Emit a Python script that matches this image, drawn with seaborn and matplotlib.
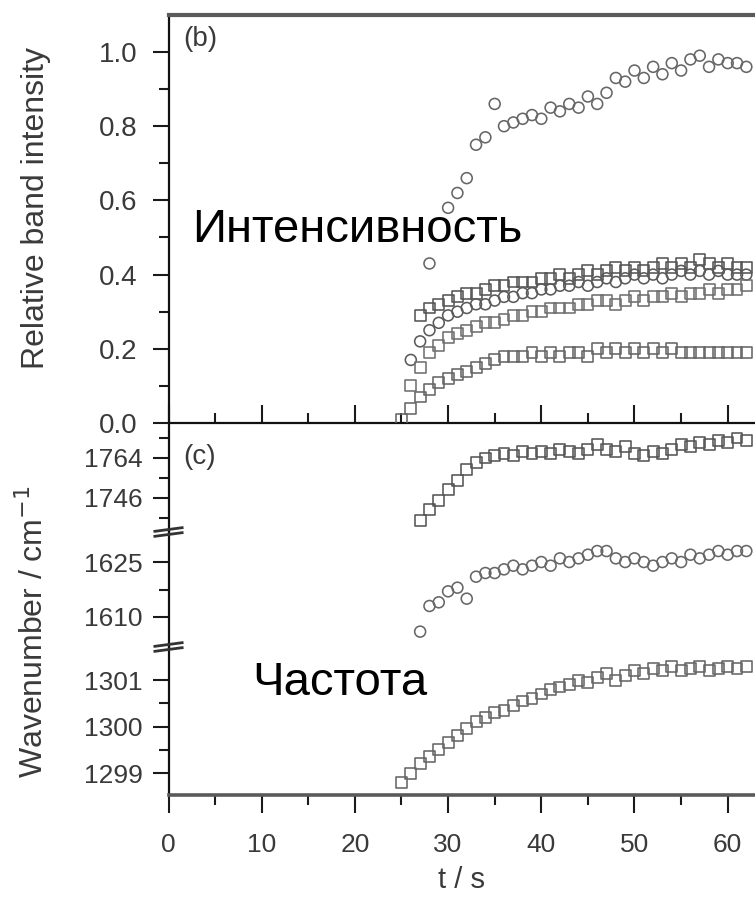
import matplotlib
matplotlib.use("Agg")
import matplotlib.pyplot as plt
from matplotlib.ticker import MultipleLocator, FixedLocator
import seaborn as sns

sns.set_style("ticks")
plt.rcParams["font.family"] = ["Liberation Sans", "DejaVu Sans"]

# ---- panel (b): relative band intensities vs time -------------------------
t_a = [28] + list(range(30, 63))
int_a = [0.43, 0.58, 0.62, 0.66, 0.75, 0.77, 0.86, 0.80, 0.81, 0.82, 0.83, 0.82,
         0.85, 0.84, 0.86, 0.85, 0.88, 0.86, 0.89, 0.93, 0.92, 0.95, 0.93, 0.96,
         0.94, 0.97, 0.95, 0.98, 0.99, 0.96, 0.98, 0.97, 0.97, 0.96]

t_b = list(range(27, 63))
int_b = [0.29, 0.31, 0.32, 0.33, 0.34, 0.35, 0.35, 0.36, 0.37, 0.37, 0.38, 0.38,
         0.38, 0.39, 0.39, 0.40, 0.39, 0.40, 0.41, 0.40, 0.41, 0.42, 0.41, 0.42,
         0.41, 0.42, 0.43, 0.42, 0.43, 0.42, 0.44, 0.43, 0.42, 0.43, 0.42, 0.42]

t_c = list(range(26, 63))
int_c = [0.17, 0.22, 0.25, 0.27, 0.29, 0.30, 0.31, 0.32, 0.32, 0.33, 0.34, 0.34,
         0.35, 0.35, 0.36, 0.36, 0.37, 0.37, 0.38, 0.37, 0.38, 0.39, 0.38, 0.39,
         0.40, 0.39, 0.40, 0.39, 0.40, 0.41, 0.40, 0.41, 0.40, 0.41, 0.40, 0.40, 0.40]

t_e = list(range(26, 63))
int_e = [0.10, 0.15, 0.19, 0.21, 0.23, 0.24, 0.25, 0.26, 0.27, 0.27, 0.28, 0.29,
         0.29, 0.30, 0.30, 0.31, 0.31, 0.31, 0.32, 0.32, 0.33, 0.33, 0.32, 0.33,
         0.34, 0.33, 0.34, 0.34, 0.35, 0.34, 0.35, 0.35, 0.36, 0.35, 0.36, 0.36, 0.37]

t_d = list(range(25, 63))
int_d = [0.01, 0.04, 0.07, 0.09, 0.11, 0.12, 0.13, 0.14, 0.15, 0.16, 0.17, 0.18,
         0.18, 0.18, 0.19, 0.18, 0.19, 0.18, 0.19, 0.19, 0.18, 0.20, 0.19, 0.20,
         0.19, 0.20, 0.19, 0.20, 0.19, 0.20, 0.19, 0.19, 0.19, 0.19, 0.19, 0.19,
         0.19, 0.19]

# ---- panel (c): band positions vs time ------------------------------------
t_f = list(range(27, 63))
wn_f = [1736, 1741, 1745, 1750, 1754, 1759, 1762, 1764, 1765, 1766, 1765, 1767,
        1766, 1767, 1766, 1768, 1767, 1766, 1768, 1770, 1768, 1767, 1769, 1766,
        1765, 1767, 1766, 1768, 1770, 1769, 1771, 1770, 1772, 1771, 1773, 1772]

t_g = list(range(27, 63))
wn_g = [1606, 1613, 1614, 1617, 1618, 1615, 1621, 1622, 1622, 1623, 1624, 1623,
        1624, 1625, 1624, 1626, 1625, 1626, 1627, 1628, 1628, 1626, 1625, 1626,
        1625, 1624, 1625, 1626, 1625, 1627, 1626, 1627, 1628, 1627, 1628, 1628]

t_h = list(range(25, 63))
wn_h = [1298.8, 1299.0, 1299.2, 1299.35, 1299.5, 1299.65, 1299.8, 1299.95,
        1300.1, 1300.2, 1300.3, 1300.35, 1300.45, 1300.55, 1300.6, 1300.7,
        1300.8, 1300.85, 1300.9, 1301.0, 1300.95, 1301.05, 1301.15, 1301.0,
        1301.1, 1301.2, 1301.15, 1301.25, 1301.2, 1301.3, 1301.2, 1301.25,
        1301.3, 1301.2, 1301.25, 1301.3, 1301.25, 1301.3]

int_ticks = [0.0, 0.2, 0.4, 0.6, 0.8, 1.0]
int_tick_labels = ["0.0", "0.2", "0.4", "0.6", "0.8", "1.0"]
seg1_ticks, seg1_labels = [1746, 1764], ["1746", "1764"]
seg2_ticks, seg2_labels = [1610, 1625], ["1610", "1625"]
seg3_ticks, seg3_labels = [1299, 1300, 1301], ["1299", "1300", "1301"]
time_ticks = [0, 10, 20, 30, 40, 50, 60]

# ---- figure layout ---------------------------------------------------------
W, H = 755, 898
fig = plt.figure(figsize=(W / 100, H / 100), dpi=100)


def frac_box(x0, y0, x1, y1):
    return [x0 / W, 1 - y1 / H, (x1 - x0) / W, (y1 - y0) / H]


ax_i = fig.add_axes(frac_box(168.5, 15, 755, 423))
ax1 = fig.add_axes(frac_box(168.5, 423, 755, 532))
ax2 = fig.add_axes(frac_box(168.5, 532, 755, 647))
ax3 = fig.add_axes(frac_box(168.5, 647, 755, 795))

XMAX = 62.93
MS = 62
TICKC = "#1a1a1a"
LABC = "#3a3a3a"


def scatter(ax, t, v, marker, color):
    sns.scatterplot(x=t, y=v, ax=ax, marker=marker, s=MS, facecolor="none",
                    edgecolor=color, linewidth=1.15, legend=False, zorder=3)


scatter(ax_i, t_a, int_a, "o", "#666666")
scatter(ax_i, t_b, int_b, "s", "#555555")
scatter(ax_i, t_c, int_c, "o", "#5a5a5a")
scatter(ax_i, t_e, int_e, "s", "#707070")
scatter(ax_i, t_d, int_d, "s", "#666666")

scatter(ax1, t_f, wn_f, "s", "#555555")
scatter(ax2, t_g, wn_g, "o", "#666666")
scatter(ax3, t_h, wn_h, "s", "#666666")

for ax in (ax_i, ax1, ax2, ax3):
    ax.set_xlim(0, XMAX)
    ax.set_facecolor("none")
    ax.set_xlabel("")
    ax.set_ylabel("")
    ax.spines["right"].set_visible(False)
    ax.spines["left"].set_linewidth(1.6)
    ax.spines["left"].set_color("#111111")
    ax.tick_params(axis="y", which="major", direction="out", length=11.5,
                   width=1.5, color=TICKC, labelsize=20, labelcolor=LABC)
    ax.tick_params(axis="y", which="minor", direction="out", length=7,
                   width=1.5, color=TICKC)

# intensity panel
ax_i.set_ylim(0, 1.0997)
ax_i.set_yticks(int_ticks, int_tick_labels)
ax_i.yaxis.set_minor_locator(MultipleLocator(0.1))
ax_i.tick_params(axis="y", which="major", pad=11)
ax_i.xaxis.set_major_locator(FixedLocator(time_ticks))
ax_i.xaxis.set_minor_locator(MultipleLocator(5))
ax_i.tick_params(axis="x", which="major", direction="in", length=13, width=1.5,
                 color=TICKC, labelbottom=False)
ax_i.tick_params(axis="x", which="minor", direction="in", length=7, width=1.5,
                 color=TICKC)
ax_i.spines["top"].set_linewidth(3.0)
ax_i.spines["top"].set_color("#5a5a5a")
ax_i.spines["bottom"].set_linewidth(1.6)
ax_i.spines["bottom"].set_color("#111111")

# wavenumber segments
ax1.set_ylim(1730.7, 1779.75)
ax1.set_yticks(seg1_ticks, seg1_labels)
ax1.yaxis.set_minor_locator(FixedLocator([1737, 1755, 1773]))

ax2.set_ylim(1601.8, 1633.2)
ax2.set_yticks(seg2_ticks, seg2_labels)
ax2.yaxis.set_minor_locator(FixedLocator([1617.5]))

ax3.set_ylim(1298.53, 1301.71)
ax3.set_yticks(seg3_ticks, seg3_labels)
ax3.yaxis.set_minor_locator(FixedLocator([1299.5, 1300.5]))

for ax in (ax1, ax2, ax3):
    ax.tick_params(axis="y", which="major", pad=7, labelsize=19)
    ax.spines["top"].set_visible(False)

for ax in (ax1, ax2):
    ax.spines["bottom"].set_visible(False)
    ax.tick_params(axis="x", which="both", bottom=False, labelbottom=False)

ax3.xaxis.set_major_locator(FixedLocator(time_ticks))
ax3.xaxis.set_minor_locator(MultipleLocator(5))
ax3.tick_params(axis="x", which="major", direction="out", length=13, width=1.5,
                color=TICKC, labelsize=19, labelcolor=LABC, pad=14)
ax3.tick_params(axis="x", which="minor", direction="out", length=7, width=1.5,
                color=TICKC)
ax3.spines["bottom"].set_linewidth(2.6)
ax3.spines["bottom"].set_color("#5a5a5a")


# break symbols on the wavenumber axis
def axis_break(ax):
    bb = ax.get_window_extent()
    dx = 15 / bb.width
    dy = 2.5 / bb.height
    sl = 2.0 / bb.height
    for off in (-dy, dy):
        ax.plot([-dx, dx], [1 + off - sl, 1 + off + sl], transform=ax.transAxes,
                color="#333333", lw=2.0, clip_on=False, zorder=5,
                solid_capstyle="butt")


fig.canvas.draw()
axis_break(ax2)
axis_break(ax3)

# panel tags and annotations
ax_i.text(0.025, 0.925, "(b)", transform=ax_i.transAxes, fontsize=20,
          color=LABC, va="baseline")
ax1.text(0.025, 0.62, "(c)", transform=ax1.transAxes, fontsize=20,
         color=LABC, va="baseline")
ax_i.text(0.040, 0.443, "Интенсивность", transform=ax_i.transAxes,
          fontsize=34, color="black", va="baseline")
ax3.text(0.142, 0.676, "Частота", transform=ax3.transAxes,
         fontsize=34, color="black", va="baseline")

fig.text(36 / W, 1 - 208 / H, "Relative band intensity", rotation=90,
         ha="center", va="center", fontsize=23, color=LABC)
fig.text(34 / W, 1 - 632 / H, "Wavenumber / cm$^{-1}$", rotation=90,
         ha="center", va="center", fontsize=23, color=LABC)
fig.text(461 / W, 1 - 880 / H, "t / s", ha="center", va="center",
         fontsize=21, color=LABC)

fig.savefig("out.png", dpi=100, facecolor="white")
